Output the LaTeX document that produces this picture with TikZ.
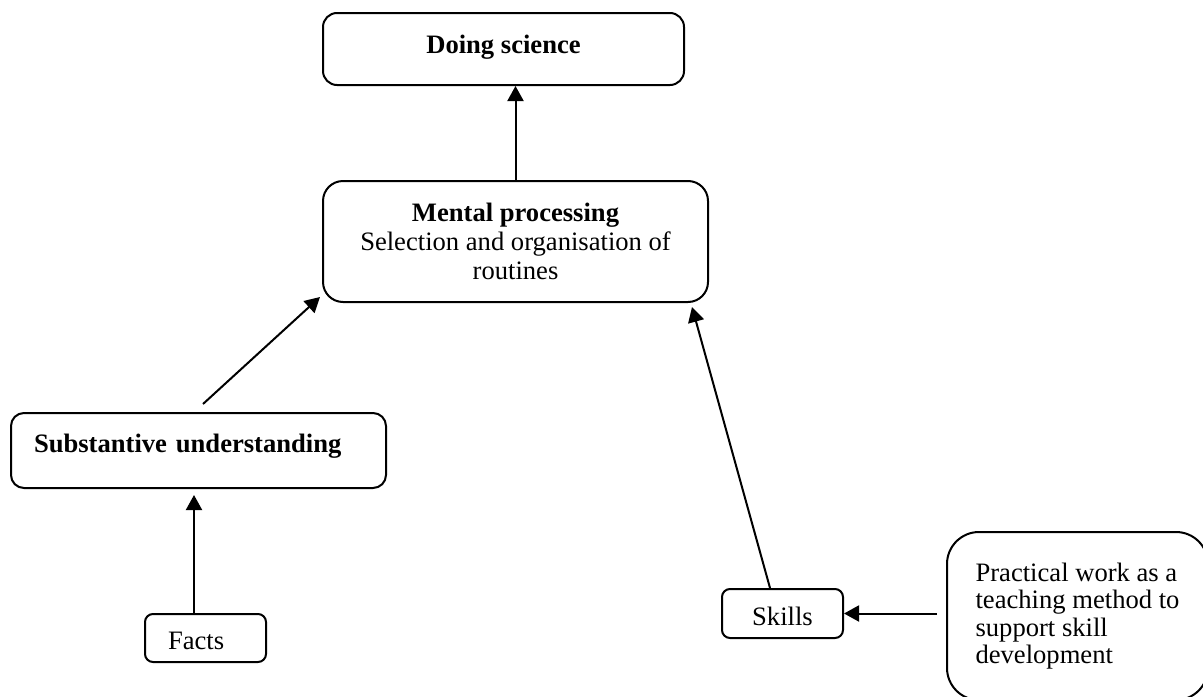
\documentclass[tikz,border=0pt]{standalone}
\usepackage{fontspec}
\setmainfont{Liberation Serif}
\usepackage{tikz}
\usetikzlibrary{arrows.meta}

\begin{document}
\begin{tikzpicture}[x=0.5pt, y=-0.5pt,
  font=\fontsize{13.3pt}{14.5pt}\selectfont,
  box/.style={draw, line width=1pt, anchor=north west, inner ysep=0pt},
  arr/.style={-{Triangle[length=7.5pt, width=8pt]}, line width=1pt}]

\clip (0,0) rectangle (1203,696);

\node[box, rounded corners=7pt, minimum width=180.5pt, text height=20pt, text depth=16pt] (1) at (322,12) {\bfseries Doing science};
\node[box, rounded corners=10pt, minimum width=192.5pt, minimum height=60.5pt, align=center] (2) at (322,180) {\textbf{Mental processing}\\ Selection and organisation of\\ routines};
\node[box, rounded corners=6.5pt, inner xsep=11.5pt, text width=164.5pt, align=left, text height=19.5pt, text depth=18pt] (3) at (10,412) {\bfseries Substantive understanding};
\node[box, rounded corners=4pt, inner xsep=11.5pt, text width=37.5pt, align=left, text height=17.5pt, text depth=6.5pt] (4) at (144,613) {Facts};
\node[box, rounded corners=4pt, minimum width=60.5pt, text height=18pt, text depth=6.5pt] (5) at (721,588) {Skills};
\node[box, rounded corners=16pt, minimum width=130.5pt, minimum height=84pt, align=left, font=\fontsize{13.3pt}{13.75pt}\selectfont] (6) at (946,531) {Practical work as a\\ teaching method to\\ support skill\\ development};

\path[draw, arr] (2.north) -- (2.north |- 1.south);
\path[draw, arr] ([xshift=2.25pt, yshift=4pt]3.north) -- ([xshift=-1pt, yshift=3pt]2.south west);
\path[draw, arr] ([xshift=-5.75pt]4.north) -- ([xshift=-5.75pt, yshift=-3pt]4.north |- 3.south);
\path[draw, arr] ([xshift=-6.25pt]5.north) -- ([xshift=-8.5pt, yshift=-2pt]2.south east);
\path[draw, arr] ([xshift=-4.5pt]6.west |- 5.east) -- (5.east);

\end{tikzpicture}
\end{document}
